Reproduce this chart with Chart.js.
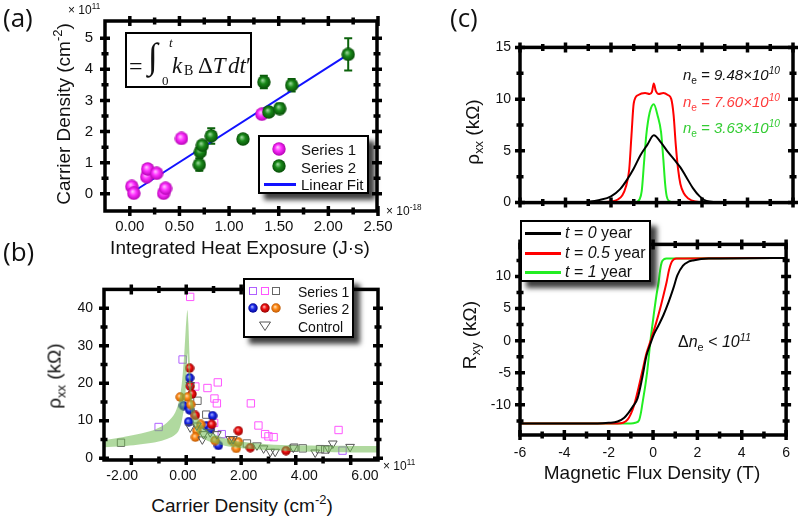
<!DOCTYPE html>
<html>
<head>
<meta charset="utf-8">
<title>Carrier density / heat exposure panels</title>
<script src="https://cdn.jsdelivr.net/npm/chart.js@4.4.1/dist/chart.umd.min.js"></script>
<style>
  html, body { margin: 0; padding: 0; background: #fff; }
  body { position: relative; width: 800px; height: 519px; overflow: hidden;
         font-family: 'Liberation Sans', Arial, sans-serif; color: #111; }
  .pane { position: absolute; }
  .txt { position: absolute; white-space: nowrap; line-height: 1; }
  .title { font-family: 'Liberation Sans', Arial, sans-serif; font-size: 19px; transform: translate(-50%, -50%); }
  .title.rot { transform: translate(-50%, -50%) rotate(-90deg); }
  .panel { font-family: 'Open Sans', sans-serif; font-size: 26px; }
  .mult { font-size: 12px; }
  sup, sub { font-size: 0.68em; line-height: 0; }
  .legend { position: absolute; background: #fff; border: 2px solid #000; box-sizing: border-box;
            box-shadow: 6px 6px 5px rgba(0,0,0,0.75); }
  .ann { font-style: italic; font-size: 15px; }
  .ann sub { font-style: normal; }
  #eq { position: absolute; left: 125px; top: 32px; width: 127px; height: 56px; box-sizing: border-box;
        border: 2px solid #000; font-family: 'Liberation Serif', 'DejaVu Serif', serif; }
  #eq span { position: absolute; white-space: nowrap; line-height: 1; }
</style>
</head>
<body>

<div class="pane" style="left:0;top:0;width:400px;height:240px"><canvas id="cA"></canvas></div>
<div class="pane" style="left:0;top:270px;width:400px;height:220px"><canvas id="cB"></canvas></div>
<div class="pane" style="left:400px;top:30px;width:400px;height:190px"><canvas id="cC1"></canvas></div>
<div class="pane" style="left:400px;top:227px;width:400px;height:270px"><canvas id="cC2"></canvas></div>

<!-- panel letters -->
<div class="txt panel" style="left:3px;top:4px">(a)</div>
<div class="txt panel" style="left:3px;top:238px">(b)</div>
<div class="txt panel" style="left:450px;top:4px">(c)</div>

<!-- axis titles -->
<div class="txt title rot" style="left:63px;top:114px">Carrier Density (cm<sup>-2</sup>)</div>
<div class="txt title" style="left:240px;top:247px">Integrated Heat Exposure (J·s)</div>
<div class="txt mult" style="left:386px;top:205px">× 10<sup>-18</sup></div>
<div class="txt mult" style="left:68px;top:4px">× 10<sup>11</sup></div>

<div class="txt title rot" style="left:54px;top:376px">ρ<sub>xx</sub> (kΩ)</div>
<div class="txt title" style="left:242px;top:505px">Carrier Density (cm<sup>-2</sup>)</div>
<div class="txt mult" style="left:383px;top:460px">× 10<sup>11</sup></div>

<div class="txt title rot" style="left:472px;top:132px">ρ<sub>xx</sub> (kΩ)</div>
<div class="txt title rot" style="left:469px;top:335px">R<sub>xy</sub> (kΩ)</div>
<div class="txt title" style="left:652px;top:472px">Magnetic Flux Density (T)</div>

<!-- equation in (a) -->
<div id="eq">
  <span style="left:2px;top:20px;font-size:24px">=</span>
  <span style="left:21px;top:4px;font-size:36px;font-style:italic">∫</span>
  <span style="left:42px;top:2px;font-size:13px;font-style:italic">t</span>
  <span style="left:35px;top:40px;font-size:13px">0</span>
  <span style="left:45px;top:20px;font-size:23px;font-style:italic">k</span>
  <span style="left:57px;top:30px;font-size:14px">B</span>
  <span style="left:71px;top:20px;font-size:23px">Δ<i>T</i></span>
  <span style="left:101px;top:20px;font-size:23px"><i>dt</i>′</span>
</div>

<!-- annotations in (c) -->
<div class="txt ann" style="right:20px;top:67px;color:#111"><i>n</i><sub>e</sub> = 9.48×10<sup>10</sup></div>
<div class="txt ann" style="right:20px;top:94px;color:#ff3b3b"><i>n</i><sub>e</sub> = 7.60×10<sup>10</sup></div>
<div class="txt ann" style="right:20px;top:120px;color:#33cc33"><i>n</i><sub>e</sub> = 3.63×10<sup>10</sup></div>
<div class="txt ann" style="left:678px;top:334px;font-size:16px;color:#111"><span style="font-style:normal">Δ</span><i>n</i><sub>e</sub> &lt; 10<sup>11</sup></div>

<div class="legend" id="legA" style="left:258px;top:135px;width:111px;height:59px"></div>
<div class="legend" id="legB" style="left:243px;top:278px;width:111px;height:60px"></div>
<div class="legend" id="legC" style="left:520px;top:220px;width:131px;height:62px"></div>

<script>
// ---- (a) carrier density vs integrated heat exposure (x1e-18 J·s, y x1e11 cm^-2)
const heatS1 = [0.02, 0.04, 0.17, 0.18, 0.27, 0.34, 0.36, 0.52, 1.33];
const densS1 = [0.24, 0.02, 0.55, 0.80, 0.66, 0.02, 0.18, 1.78, 2.56];
const heatS2 = [0.70, 0.71, 0.73, 0.82, 1.14, 1.35, 1.40, 1.51, 1.63, 2.20];
const densS2 = [0.94, 1.35, 1.56, 1.86, 1.76, 3.59, 2.63, 2.74, 3.49, 4.48];
const errS2  = [0.20, 0.12, 0.12, 0.25, 0.08, 0.20, 0.12, 0.15, 0.20, 0.52];
const fitHeat = [0.05, 2.20];
const fitDens = [0.10, 4.48];
const ticksAX = [0, 0.5, 1, 1.5, 2, 2.5];
const labelsAX = ['0.00', '0.50', '1.00', '1.50', '2.00', '2.50'];
const minorAX = [0.25, 0.75, 1.25, 1.75, 2.25];
const ticksAY = [0, 1, 2, 3, 4, 5];
const labelsAY = ['0', '1', '2', '3', '4', '5'];
const minorAY = [0.5, 1.5, 2.5, 3.5, 4.5];

// ---- (b) rho_xx vs carrier density (x1e11 cm^-2)
const bandX     = [-2.6, -2.0, -1.5, -1.0, -0.6, -0.3, -0.15, -0.05, 0.03, 0.09, 0.13, 0.15, 0.18, 0.22, 0.27, 0.35, 0.5, 0.75, 1.0, 1.5, 2.0, 3.0, 4.0, 5.0, 6.5];
const bandUpper = [4.8, 5.6, 6.4, 7.4, 9.0, 11.5, 14.5, 19, 26, 34, 38.5, 39.5, 36, 27, 19, 14, 10.5, 7.8, 6.5, 5.0, 4.3, 3.6, 3.4, 3.3, 3.2];
const bandLower = [2.9, 3.2, 3.6, 4.1, 4.9, 6.0, 7.2, 9.5, 13, 18, 24, 28, 24, 17, 12, 9, 6.5, 4.9, 4.1, 3.1, 2.6, 2.1, 1.8, 1.6, 1.5];
const violetX = [-0.80, -0.01, 1.28, 5.26];
const violetY = [8.3, 26.3, 6.4, 2.0];
const pinkX = [0.24, 0.41, 0.81, 1.15, 1.04, 1.12, 1.03, 2.24, 2.49, 2.71, 2.82, 2.99, 5.13];
const pinkY = [43.0, 19.1, 18.7, 20.2, 15.9, 14.6, 9.4, 14.6, 8.7, 6.4, 5.8, 5.6, 7.5];
const graySqX = [-2.04, 0.48, 0.77, 2.11, 3.67, 3.95, 4.52, 4.69];
const graySqY = [4.1, 15.3, 11.6, 3.9, 2.8, 2.6, 2.4, 2.3];
const blueX = [0.22, 0.02, 0.22, 0.19, 0.98, 0.77, 0.90, 1.17];
const blueY = [21.4, 14.0, 12.9, 9.7, 11.3, 8.6, 7.7, 3.4];
const redX = [0.22, 0.24, 0.30, 0.41, 0.95, 1.83, 2.22, 3.40];
const redY = [24.0, 19.2, 17.1, 11.4, 9.0, 7.3, 2.8, 2.0];
const orangeX = [-0.09, 0.15, 0.26, 0.59, 0.46, 0.41, 1.06, 1.61, 1.76, 1.83];
const orangeY = [16.3, 16.3, 14.3, 9.0, 7.3, 5.6, 4.7, 4.7, 2.6, 4.3];
const ctrlX = [0.24, 0.24, 0.46, 0.64, 0.68, 0.90, 1.12, 1.56, 1.65, 2.44, 2.66, 2.88, 3.04, 3.64, 4.36, 4.80, 4.94, 5.51];
const ctrlY = [19.5, 8.2, 8.7, 5.0, 6.4, 6.9, 6.4, 5.1, 5.1, 3.4, 2.6, 1.7, 1.7, 2.8, 1.5, 2.6, 3.9, 3.0];
const ticksBX = [-2, 0, 2, 4, 6];
const labelsBX = ['-2.00', '0.00', '2.00', '4.00', '6.00'];
const frameBXMajor = [-1.70, 0.11, 1.92, 3.72, 5.53];
const frameBXMinor = [-0.79, 1.01, 2.82, 4.62];
const ticksBY = [0, 10, 20, 30, 40];
const labelsBY = ['0', '10', '20', '30', '40'];
const minorBY = [5, 15, 25, 35];

// ---- (c) magnetotransport vs field (T)
const fieldRxxBlack = [-6, -3.5, -3, -2.5, -2, -1.6, -1.3, -1.0, -0.7, -0.4, -0.12, 0.2, 0.5, 0.8, 1.05, 1.3, 1.6, 1.9, 2.2, 2.6, 3, 6];
const rxxBlack      = [0, 0.02, 0.08, 0.25, 0.6, 1.3, 2.2, 3.3, 4.6, 5.6, 6.5, 5.8, 4.9, 4.1, 3.4, 2.5, 1.4, 0.6, 0.15, 0.05, 0.02, 0];
const fieldRxxRed = [-6, -2.5, -2, -1.7, -1.5, -1.35, -1.2, -1.1, -1.0, -0.8, -0.5, -0.3, -0.2, -0.12, -0.03, 0.1, 0.3, 0.5, 0.65, 0.75, 0.85, 0.95, 1.05, 1.2, 1.4, 1.7, 2.1, 6];
const rxxRed      = [0, 0.02, 0.1, 0.3, 0.7, 1.5, 3.2, 6.5, 9.6, 10.4, 10.6, 10.5, 10.7, 11.5, 10.8, 10.5, 10.6, 10.4, 10.0, 8.5, 5.5, 3.2, 1.8, 0.9, 0.4, 0.1, 0.02, 0];
const fieldRxxGreen = [-6, -1.2, -0.9, -0.75, -0.65, -0.55, -0.45, -0.3, -0.12, 0.05, 0.2, 0.3, 0.38, 0.45, 0.55, 0.7, 1.0, 6];
const rxxGreen      = [0, 0, 0.05, 0.3, 1.1, 3.8, 6.5, 8.7, 9.5, 8.4, 6.8, 4.2, 1.8, 0.6, 0.15, 0.03, 0, 0];
const fieldRxyBlack = [-6, -2.5, -2, -1.6, -1.3, -1.1, -0.9, -0.7, -0.5, -0.3, -0.15, 0.03, 0.25, 0.47, 0.7, 0.91, 1.1, 1.35, 1.6, 1.8, 2.5, 6];
const rxyBlack      = [-12.9, -12.9, -12.8, -12.6, -12.0, -11.2, -10.2, -9.0, -6.0, -2.4, -0.8, 0.9, 2.4, 4.0, 6.0, 8.1, 10.2, 11.7, 12.3, 12.5, 12.8, 12.9];
const fieldRxyRed = [-6, -1.6, -1.35, -1.15, -1.0, -0.85, -0.7, -0.48, -0.3, -0.12, 0.1, 0.32, 0.5, 0.61, 0.72, 0.83, 0.95, 1.05, 6];
const rxyRed      = [-12.9, -12.9, -12.8, -12.3, -11.4, -10.0, -8.0, -4.7, -2.0, -0.1, 2.3, 5.0, 7.5, 9.1, 11.0, 12.2, 12.7, 12.8, 12.9];
const fieldRxyGreen = [-6, -1.0, -0.8, -0.63, -0.55, -0.48, -0.35, -0.26, -0.12, 0.03, 0.15, 0.25, 0.32, 0.39, 0.5, 0.61, 6];
const rxyGreen      = [-12.9, -12.9, -12.8, -12.4, -11.3, -9.8, -7.0, -4.7, -0.1, 4.0, 7.0, 9.1, 11.0, 12.2, 12.7, 12.8, 12.9];
const ticksCX = [-6, -4, -2, 0, 2, 4, 6];
const labelsCX = ['-6', '-4', '-2', '0', '2', '4', '6'];
const minorCX = [-5, -3, -1, 1, 3, 5];
const ticksC1Y = [0, 5, 10, 15];
const labelsC1Y = ['0', '5', '10', '15'];
const minorC1Y = [2.5, 7.5, 12.5];
const ticksC2Y = [-10, -5, 0, 5, 10];
const labelsC2Y = ['-10', '-5', '0', '5', '10'];
const minorC2Y = [-12.5, -7.5, -2.5, 2.5, 7.5, 12.5];

const pts = (xs, ys) => xs.map((x, i) => ({ x, y: ys[i] }));

function sphere(light, mid, dark, d) {
  const c = document.createElement('canvas');
  c.width = c.height = d;
  const g = c.getContext('2d');
  const grd = g.createRadialGradient(d * 0.4, d * 0.36, 0, d / 2, d / 2, d / 2);
  grd.addColorStop(0, light);
  grd.addColorStop(0.45, mid);
  grd.addColorStop(1, dark);
  g.fillStyle = grd;
  g.beginPath();
  g.arc(d / 2, d / 2, d / 2 - 0.3, 0, Math.PI * 2);
  g.fill();
  return c;
}
const MAGENTA = ['#ffd0ff', '#ff30ff', '#b000b0'];
const GREEN = ['#a8e0a8', '#1a8a1a', '#064a06'];
const BLUE = ['#b8c0ff', '#1c2ce8', '#00008a'];
const RED = ['#ffc0c0', '#f01010', '#8c0000'];
const ORANGE = ['#ffe6c0', '#ff8a18', '#b85400'];

// thick frame with ticks on all four sides (drawn over the data)
const framePlugin = {
  id: 'frame',
  afterDatasetsDraw(chart, args, o) {
    const { ctx, chartArea: a, scales: { x, y } } = chart;
    ctx.save();
    ctx.strokeStyle = '#000';
    const vt = (v, len, w) => {
      const px = x.getPixelForValue(v);
      ctx.lineWidth = w;
      ctx.beginPath();
      ctx.moveTo(px, a.top - len); ctx.lineTo(px, a.top + len);
      ctx.moveTo(px, a.bottom - len); ctx.lineTo(px, a.bottom + len);
      ctx.stroke();
    };
    const ht = (v, len, w) => {
      const py = y.getPixelForValue(v);
      ctx.lineWidth = w;
      ctx.beginPath();
      ctx.moveTo(a.left - len, py); ctx.lineTo(a.left + len, py);
      ctx.moveTo(a.right - len, py); ctx.lineTo(a.right + len, py);
      ctx.stroke();
    };
    (o.xMajor || []).forEach(v => vt(v, 5, 3.5));
    (o.xMinor || []).forEach(v => vt(v, 3.5, 3.5));
    (o.yMajor || []).forEach(v => ht(v, 5, 3.5));
    (o.yMinor || []).forEach(v => ht(v, 3.5, 3.5));
    ctx.lineWidth = 3.5;
    ctx.strokeRect(a.left, a.top, a.right - a.left, a.bottom - a.top);
    ctx.restore();
  }
};

// vertical error bars for datasets that carry an errY array
const errorBarPlugin = {
  id: 'errbars',
  beforeDatasetsDraw(chart) {
    const { ctx, scales: { x, y } } = chart;
    chart.data.datasets.forEach(ds => {
      if (!ds.errY) return;
      ctx.save();
      ctx.strokeStyle = ds.errColor || '#000';
      ctx.lineWidth = 2;
      ds.data.forEach((p, j) => {
        const px = x.getPixelForValue(p.x);
        const y1 = y.getPixelForValue(p.y + ds.errY[j]);
        const y2 = y.getPixelForValue(p.y - ds.errY[j]);
        ctx.beginPath();
        ctx.moveTo(px, y1); ctx.lineTo(px, y2);
        ctx.moveTo(px - 4, y1); ctx.lineTo(px + 4, y1);
        ctx.moveTo(px - 4, y2); ctx.lineTo(px + 4, y2);
        ctx.stroke();
      });
      ctx.restore();
    });
  }
};

function axis(min, max, ticks, labels, size, pad, fit, display = true) {
  return {
    type: 'linear', min, max, display,
    grid: { display: false, drawTicks: false },
    border: { display: false },
    afterBuildTicks: s => { s.ticks = ticks.map(v => ({ value: v })); },
    ticks: {
      color: '#111', padding: pad, autoSkip: false, maxRotation: 0,
      font: { family: "'Liberation Sans', Arial, sans-serif", size },
      callback: (v, i) => labels[i]
    },
    afterFit: fit
  };
}
const fitX = s => { s.height = 25; };
const fitY = s => { s.width = 40; };

function baseOptions(padding, scales, frame) {
  return {
    responsive: true, maintainAspectRatio: false, animation: false,
    layout: { padding },
    plugins: { legend: { display: false }, tooltip: { enabled: false }, frame },
    scales
  };
}

// ---------------- (a)
new Chart(document.getElementById('cA'), {
  type: 'scatter',
  data: { datasets: [
    { label: 'Series 2', data: pts(heatS2, densS2), errY: errS2, errColor: '#0b620b',
      pointStyle: sphere(...GREEN, 14), pointRadius: 7, order: 0 },
    { label: 'Series 1', data: pts(heatS1, densS1),
      pointStyle: sphere(...MAGENTA, 14), pointRadius: 7, order: 1 },
    { label: 'Linear Fit', data: pts(fitHeat, fitDens), showLine: true,
      borderColor: '#1212ff', borderWidth: 2, pointRadius: 0, order: 2 }
  ]},
  options: baseOptions({ left: 65, right: 23, top: 15, bottom: 4 }, {
    x: axis(-0.25, 2.49, ticksAX, labelsAX, 15, 7, fitX),
    y: axis(-0.55, 5.55, ticksAY, labelsAY, 15, 12, fitY)
  }, { xMajor: ticksAX, xMinor: minorAX, yMajor: ticksAY, yMinor: minorAY }),
  plugins: [errorBarPlugin, framePlugin]
});

// ---------------- (b)
const BAND = 'rgba(112,186,80,0.55)';
new Chart(document.getElementById('cB'), {
  type: 'scatter',
  data: { datasets: [
    { label: 'band upper', data: pts(bandX, bandUpper), showLine: true, fill: '+1',
      backgroundColor: BAND, borderWidth: 0, pointRadius: 0, tension: 0.3, order: 0 },
    { label: 'band lower', data: pts(bandX, bandLower), showLine: true,
      borderWidth: 0, pointRadius: 0, tension: 0.3, order: 0 },
    { label: 'Control', data: pts(ctrlX, ctrlY), pointStyle: 'triangle', rotation: 180,
      pointRadius: 5, borderColor: '#555', borderWidth: 1, backgroundColor: 'rgba(0,0,0,0)', order: 1 },
    { label: 'Series 2 orange', data: pts(orangeX, orangeY), pointStyle: sphere(...ORANGE, 10), pointRadius: 5, order: 2 },
    { label: 'Series 2 red', data: pts(redX, redY), pointStyle: sphere(...RED, 10), pointRadius: 5, order: 3 },
    { label: 'Series 2 blue', data: pts(blueX, blueY), pointStyle: sphere(...BLUE, 10), pointRadius: 5, order: 4 },
    { label: 'Series 1 gray', data: pts(graySqX, graySqY), pointStyle: 'rect', pointRadius: 5.2,
      borderColor: '#666', borderWidth: 1, backgroundColor: 'rgba(0,0,0,0)', order: 5 },
    { label: 'Series 1 pink', data: pts(pinkX, pinkY), pointStyle: 'rect', pointRadius: 5.2,
      borderColor: '#ff55ff', borderWidth: 1, backgroundColor: 'rgba(0,0,0,0)', order: 6 },
    { label: 'Series 1 violet', data: pts(violetX, violetY), pointStyle: 'rect', pointRadius: 5.2,
      borderColor: '#b060ff', borderWidth: 1, backgroundColor: 'rgba(0,0,0,0)', order: 7 }
  ]},
  options: baseOptions({ left: 64, right: 22, top: 15, bottom: 5 }, {
    x: axis(-2.6, 6.43, ticksBX, labelsBX, 14, 8, fitX),
    y: axis(-0.5, 45, ticksBY, labelsBY, 14, 11, fitY)
  }, { xMajor: frameBXMajor, xMinor: frameBXMinor, yMajor: ticksBY, yMinor: minorBY }),
  plugins: [framePlugin]
});

// ---------------- (c) top: rho_xx
const lineDs = (label, xs, ys, color) => ({
  label, data: pts(xs, ys), showLine: true, borderColor: color, borderWidth: 2,
  pointRadius: 0, cubicInterpolationMode: 'monotone'
});
new Chart(document.getElementById('cC1'), {
  type: 'scatter',
  data: { datasets: [
    lineDs('t = 0 year', fieldRxxBlack, rxxBlack, '#000'),
    lineDs('t = 1 year', fieldRxxGreen, rxxGreen, '#22ee22'),
    lineDs('t = 0.5 year', fieldRxxRed, rxxRed, '#ff0000')
  ]},
  options: baseOptions({ left: 80, right: 7, top: 15, bottom: 7 }, {
    x: axis(-6, 6, ticksCX, labelsCX, 14, 7, undefined, false),
    y: axis(0, 15, ticksC1Y, labelsC1Y, 14, 9, fitY)
  }, { xMajor: ticksCX, xMinor: minorCX, yMajor: ticksC1Y, yMinor: minorC1Y }),
  plugins: [framePlugin]
});

// ---------------- (c) bottom: R_xy
new Chart(document.getElementById('cC2'), {
  type: 'scatter',
  data: { datasets: [
    lineDs('t = 0 year', fieldRxyBlack, rxyBlack, '#000'),
    lineDs('t = 0.5 year', fieldRxyRed, rxyRed, '#ff0000'),
    lineDs('t = 1 year', fieldRxyGreen, rxyGreen, '#22ee22')
  ]},
  options: baseOptions({ left: 80, right: 7, top: 15, bottom: 37 }, {
    x: axis(-6, 6, ticksCX, labelsCX, 14, 10, fitX),
    y: axis(-14.7, 15, ticksC2Y, labelsC2Y, 14, 9, fitY)
  }, { xMajor: ticksCX, xMinor: minorCX, yMajor: ticksC2Y, yMinor: minorC2Y }),
  plugins: [framePlugin]
});

// ---------------- legends (HTML overlays)
function put(parent, node, x, y) {
  node.style.position = 'absolute';
  node.style.left = x + 'px';
  node.style.top = y + 'px';
  node.style.transform = 'translate(-50%,-50%)';
  parent.appendChild(node);
}
function label(parent, html, x, y, size) {
  const s = document.createElement('span');
  s.innerHTML = html;
  s.style.cssText = `position:absolute;left:${x}px;top:${y}px;transform:translateY(-50%);white-space:nowrap;font-size:${size}px;line-height:1;color:#111`;
  parent.appendChild(s);
}
function lineSample(parent, color, x1, x2, y) {
  const d = document.createElement('div');
  d.style.cssText = `position:absolute;left:${x1}px;top:${y - 1}px;width:${x2 - x1}px;height:2.5px;background:${color}`;
  parent.appendChild(d);
}
function square(color) {
  const d = document.createElement('div');
  d.style.cssText = `width:6px;height:6px;border:1px solid ${color}`;
  return d;
}
function triangle(color) {
  const ns = 'http://www.w3.org/2000/svg';
  const s = document.createElementNS(ns, 'svg');
  s.setAttribute('width', '13'); s.setAttribute('height', '11');
  const p = document.createElementNS(ns, 'polygon');
  p.setAttribute('points', '1,1.5 12,1.5 6.5,10');
  p.setAttribute('fill', 'none'); p.setAttribute('stroke', color);
  s.appendChild(p);
  return s;
}

const legA = document.getElementById('legA');
put(legA, sphere(...MAGENTA, 14), 19, 12);
put(legA, sphere(...GREEN, 14), 19, 29);
lineSample(legA, '#1212ff', 4, 36, 47);
label(legA, 'Series 1', 41, 12, 15);
label(legA, 'Series 2', 41, 30, 15);
label(legA, 'Linear Fit', 41, 47, 15);

const legB = document.getElementById('legB');
put(legB, square('#b060ff'), 8, 11);
put(legB, square('#ff55ff'), 20, 11);
put(legB, square('#666'), 31, 11);
put(legB, sphere(...BLUE, 10), 8, 28);
put(legB, sphere(...RED, 10), 20, 28);
put(legB, sphere(...ORANGE, 10), 31, 28);
put(legB, triangle('#555'), 20, 46);
label(legB, 'Series 1', 53, 12, 14);
label(legB, 'Series 2', 53, 29, 14);
label(legB, 'Control', 53, 47, 14);

const legC = document.getElementById('legC');
lineSample(legC, '#000', 3, 39, 11);
lineSample(legC, '#ff0000', 3, 39, 31);
lineSample(legC, '#22ee22', 3, 39, 50);
label(legC, '<i>t</i> = <i>0</i> year', 43, 11, 16);
label(legC, '<i>t</i> = <i>0.5</i> year', 43, 31, 16);
label(legC, '<i>t</i> = <i>1</i> year', 43, 50, 16);
</script>
</body>
</html>
